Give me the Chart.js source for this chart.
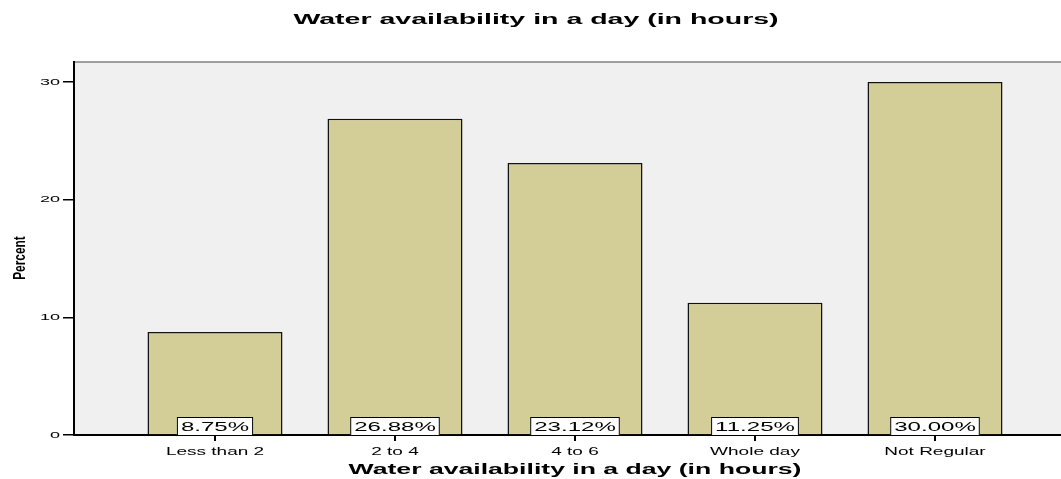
<!DOCTYPE html>
<html>
<head>
<meta charset="utf-8">
<script src="https://cdn.jsdelivr.net/npm/chart.js@4/dist/chart.umd.min.js"></script>
<style>
  html, body { margin: 0; padding: 0; background: #fff; }
  #wrap { width: 1061px; height: 479px; position: relative; }
</style>
</head>
<body>
<div id="wrap"><canvas id="graph"></canvas></div>
<script>
// 値
const categories = ["Less than 2", "2 to 4", "4 to 6", "Whole day", "Not Regular"];
const percents = [8.75, 26.88, 23.12, 11.25, 30.0];
const yTicks = [0, 10, 20, 30];
const chartTitle = "Water availability in a day (in hours)";
const xTitle = "Water availability in a day (in hours)";
const yTitle = "Percent";

const FONT = "'Liberation Sans', Arial, sans-serif";
const STRETCH = 1.9; // 元画像は文字が横に伸びている

// 横に伸ばした文字を描く
const drawText = (ctx, text, x, y, font, sx, align) => {
  ctx.save();
  ctx.font = font;
  ctx.textBaseline = "middle";
  ctx.textAlign = "left";
  const w = ctx.measureText(text).width * sx;
  let left = x;
  if (align === "center") left = x - w / 2;
  if (align === "right") left = x - w;
  ctx.translate(left, y);
  ctx.scale(sx, 1);
  ctx.fillStyle = "#000";
  ctx.fillText(text, 0, 0);
  ctx.restore();
  return w;
};

const plotBg = {
  id: "plotBg",
  beforeDraw(chart) {
    const { ctx, chartArea: a } = chart;
    ctx.save();
    ctx.fillStyle = "#f0f0f0";
    ctx.fillRect(a.left, a.top, a.right - a.left, a.bottom - a.top);
    ctx.strokeStyle = "#808080";
    ctx.lineWidth = 1.5;
    ctx.beginPath();
    ctx.moveTo(a.left, a.top);
    ctx.lineTo(a.right, a.top);
    ctx.stroke();
    ctx.restore();
  },
};

const texts = {
  id: "texts",
  afterDraw(chart) {
    const { ctx, chartArea: a } = chart;
    const xs = chart.scales.x;
    const ys = chart.scales.y;

    // タイトル
    drawText(ctx, chartTitle, 536, 20, `bold 15px ${FONT}`, STRETCH, "center");
    // x軸タイトル
    drawText(ctx, xTitle, xs.getPixelForValue(2), 470, `bold 14px ${FONT}`, STRETCH, "center");

    // y軸タイトル（縦）
    ctx.save();
    ctx.translate(20, 258);
    ctx.rotate(-Math.PI / 2);
    drawText(ctx, yTitle, 0, 0, `bold 17px ${FONT}`, 0.7, "center");
    ctx.restore();

    // x軸ラベル
    categories.forEach((c, i) => {
      drawText(ctx, c, xs.getPixelForValue(i), 452, `10px ${FONT}`, STRETCH, "center");
    });

    // y軸ラベル
    yTicks.forEach((v) => {
      drawText(ctx, String(v), a.left - 14, ys.getPixelForValue(v), `9.5px ${FONT}`, STRETCH, "right");
    });

    // 棒の下のパーセント表示
    percents.forEach((p, i) => {
      const label = `${p.toFixed(2)}%`;
      const font = `13px ${FONT}`;
      ctx.save();
      ctx.font = font;
      const w = ctx.measureText(label).width * 1.85 + 8;
      const h = 18;
      const cx = xs.getPixelForValue(i);
      ctx.fillStyle = "#fff";
      ctx.strokeStyle = "#000";
      ctx.lineWidth = 1;
      ctx.fillRect(cx - w / 2, a.bottom - h, w, h);
      ctx.strokeRect(cx - w / 2 + 0.5, a.bottom - h + 0.5, w - 1, h);
      ctx.restore();
      drawText(ctx, label, cx, a.bottom - 8, font, 1.85, "center");
    });
  },
};

const ctx = document.getElementById("graph").getContext("2d");

new Chart(ctx, {
  type: "bar",
  data: {
    datasets: [
      {
        data: percents.map((p, i) => ({ x: i, y: p })),
        backgroundColor: "#d3ce98",
        borderColor: "#111",
        borderWidth: 1.5,
        borderSkipped: "bottom",
        barPercentage: 0.75,
        categoryPercentage: 1,
      },
    ],
  },
  options: {
    responsive: true,
    maintainAspectRatio: false,
    animation: false,
    layout: { padding: { top: 62, left: 0, right: 0, bottom: 0 } },
    scales: {
      x: {
        type: "linear",
        min: -0.7833,
        max: 4.7,
        offset: false,
        afterBuildTicks(axis) {
          axis.ticks = categories.map((_, i) => ({ value: i }));
        },
        afterFit(axis) {
          axis.height = 44;
        },
        ticks: { display: false },
        grid: {
          offset: false,
          drawOnChartArea: false,
          drawTicks: true,
          tickLength: 6,
          color: "#000",
          lineWidth: 2,
        },
        border: { color: "#000", width: 2 },
      },
      y: {
        min: 0,
        max: 31.7,
        afterBuildTicks(axis) {
          axis.ticks = yTicks.map((v) => ({ value: v }));
        },
        afterFit(axis) {
          axis.width = 74;
        },
        ticks: { display: false },
        grid: {
          drawOnChartArea: false,
          drawTicks: true,
          tickLength: 11,
          color: "#000",
          lineWidth: 1.5,
        },
        border: { color: "#000", width: 2 },
      },
    },
    plugins: {
      legend: { display: false },
      tooltip: { enabled: false },
      title: { display: false },
    },
  },
  plugins: [plotBg, texts],
});
</script>
</body>
</html>
